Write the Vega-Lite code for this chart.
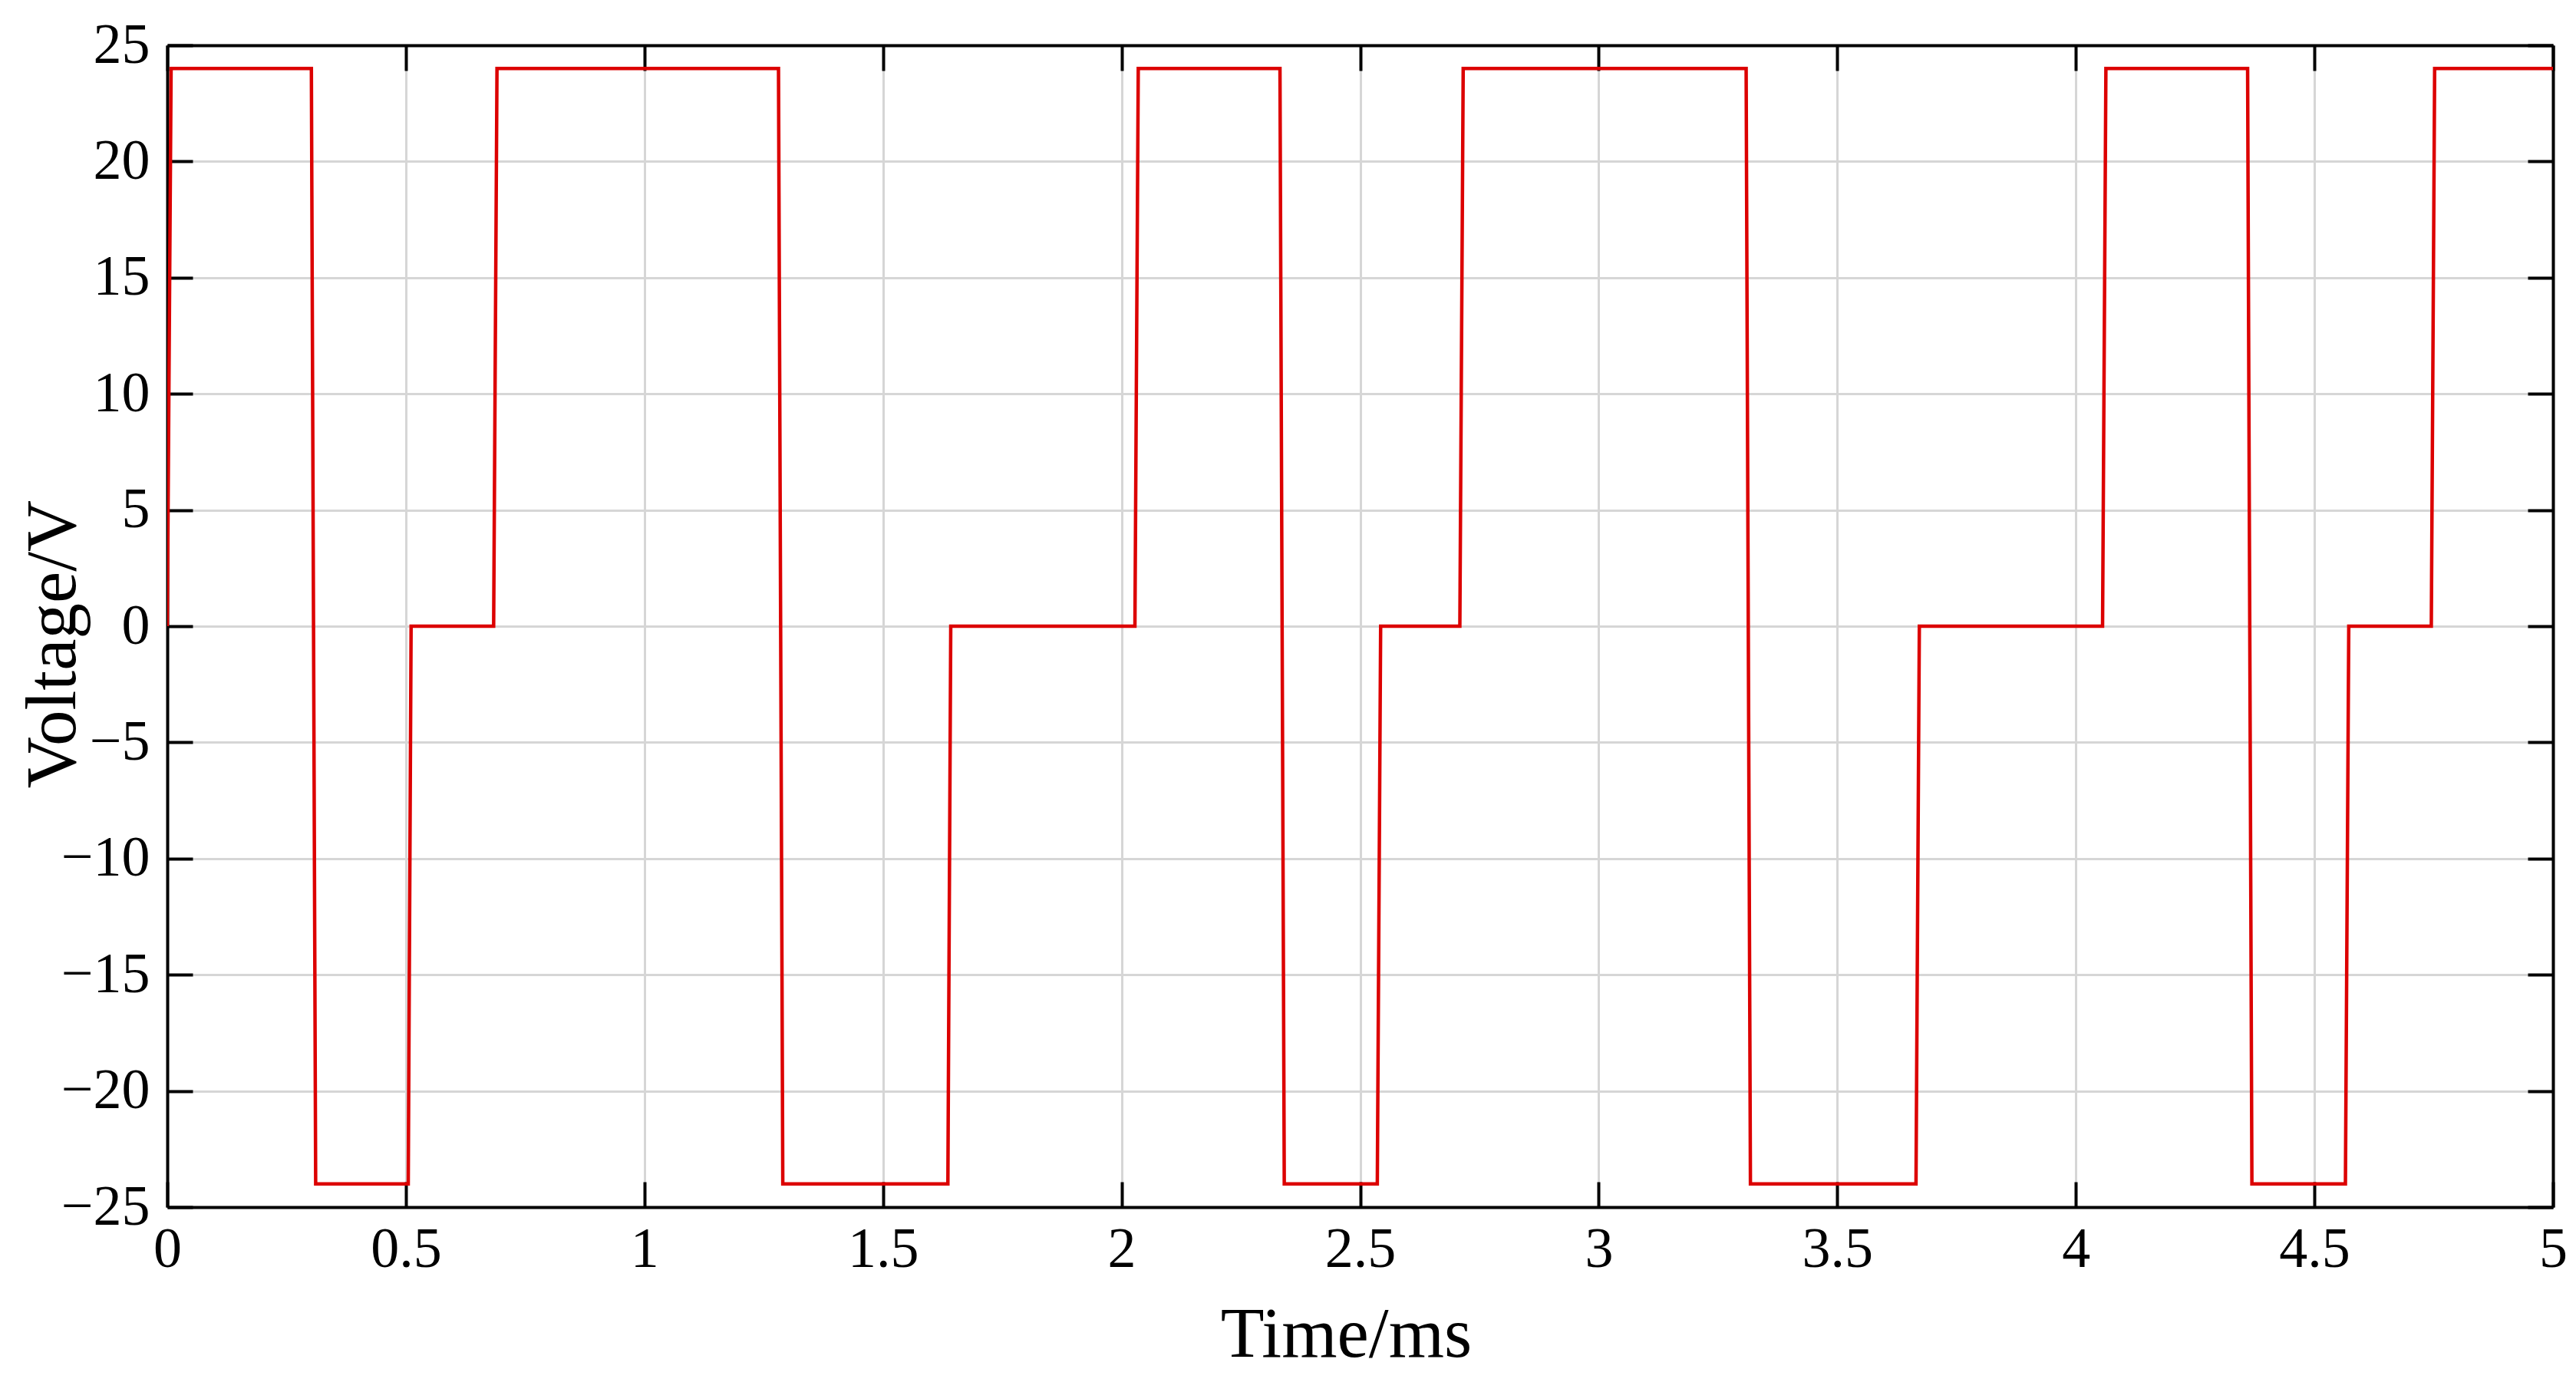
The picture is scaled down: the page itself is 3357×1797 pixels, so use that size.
{
  "$schema": "https://vega.github.io/schema/vega-lite/v6.json",
  "width": 3109,
  "height": 1514,
  "autosize": "none",
  "padding": {"left": 218, "top": 59, "right": 30, "bottom": 224},
  "background": "white",
  "config": {
    "view": {"stroke": null},
    "font": "Liberation Serif",
    "axis": {
      "domainColor": "black",
      "domainWidth": 4,
      "tickColor": "black",
      "tickWidth": 4,
      "tickSize": -33,
      "labelColor": "black",
      "labelFontSize": 74,
      "labelFont": "Liberation Serif",
      "titleFont": "Liberation Serif",
      "titleFontSize": 93,
      "titleFontWeight": "normal",
      "titleColor": "black",
      "gridColor": "#d6d6d6",
      "gridWidth": 3,
      "gridOpacity": 1
    }
  },
  "data": {
    "values": [
      {"t": 0, "v": 0},
      {"t": 0.008, "v": 24},
      {"t": 0.302, "v": 24},
      {"t": 0.311, "v": -24},
      {"t": 0.505, "v": -24},
      {"t": 0.511, "v": 0},
      {"t": 0.684, "v": 0},
      {"t": 0.691, "v": 24},
      {"t": 1.281, "v": 24},
      {"t": 1.290, "v": -24},
      {"t": 1.636, "v": -24},
      {"t": 1.642, "v": 0},
      {"t": 2.028, "v": 0},
      {"t": 2.035, "v": 24},
      {"t": 2.332, "v": 24},
      {"t": 2.341, "v": -24},
      {"t": 2.536, "v": -24},
      {"t": 2.543, "v": 0},
      {"t": 2.709, "v": 0},
      {"t": 2.716, "v": 24},
      {"t": 3.309, "v": 24},
      {"t": 3.318, "v": -24},
      {"t": 3.665, "v": -24},
      {"t": 3.672, "v": 0},
      {"t": 4.056, "v": 0},
      {"t": 4.063, "v": 24},
      {"t": 4.360, "v": 24},
      {"t": 4.369, "v": -24},
      {"t": 4.565, "v": -24},
      {"t": 4.572, "v": 0},
      {"t": 4.745, "v": 0},
      {"t": 4.752, "v": 24},
      {"t": 5, "v": 24}
    ]
  },
  "layer": [
    {
      "mark": {"type": "line", "color": "#dc0000", "strokeWidth": 4.5, "clip": true},
      "encoding": {
        "x": {
          "field": "t", "type": "quantitative",
          "scale": {"domain": [0, 5], "nice": false},
          "axis": {
            "orient": "bottom",
            "values": [0, 0.5, 1, 1.5, 2, 2.5, 3, 3.5, 4, 4.5, 5],
            "format": "~g",
            "grid": true,
            "labelPadding": 52,
            "labelFlush": false,
            "title": "Time/ms",
            "titleX": 1536,
            "titleY": 121
          }
        },
        "y": {
          "field": "v", "type": "quantitative",
          "scale": {"domain": [-25, 25], "nice": false},
          "axis": {
            "orient": "left",
            "values": [-25, -20, -15, -10, -5, 0, 5, 10, 15, 20, 25],
            "grid": true,
            "labelPadding": 56,
            "labelFlush": false,
            "title": "Voltage/V",
            "titleX": -101,
            "titleY": 780
          }
        }
      }
    },
    {
      "mark": {"type": "line", "opacity": 0},
      "encoding": {
        "x": {
          "field": "t", "type": "quantitative",
          "scale": {"domain": [0, 5], "nice": false},
          "axis": {
            "orient": "top",
            "values": [0, 0.5, 1, 1.5, 2, 2.5, 3, 3.5, 4, 4.5, 5],
            "labels": false,
            "grid": false,
            "title": null
          }
        },
        "y": {
          "field": "v", "type": "quantitative",
          "scale": {"domain": [-25, 25], "nice": false},
          "axis": {
            "orient": "right",
            "values": [-25, -20, -15, -10, -5, 0, 5, 10, 15, 20, 25],
            "labels": false,
            "grid": false,
            "title": null
          }
        }
      }
    }
  ],
  "resolve": {"axis": {"x": "independent", "y": "independent"}}
}
